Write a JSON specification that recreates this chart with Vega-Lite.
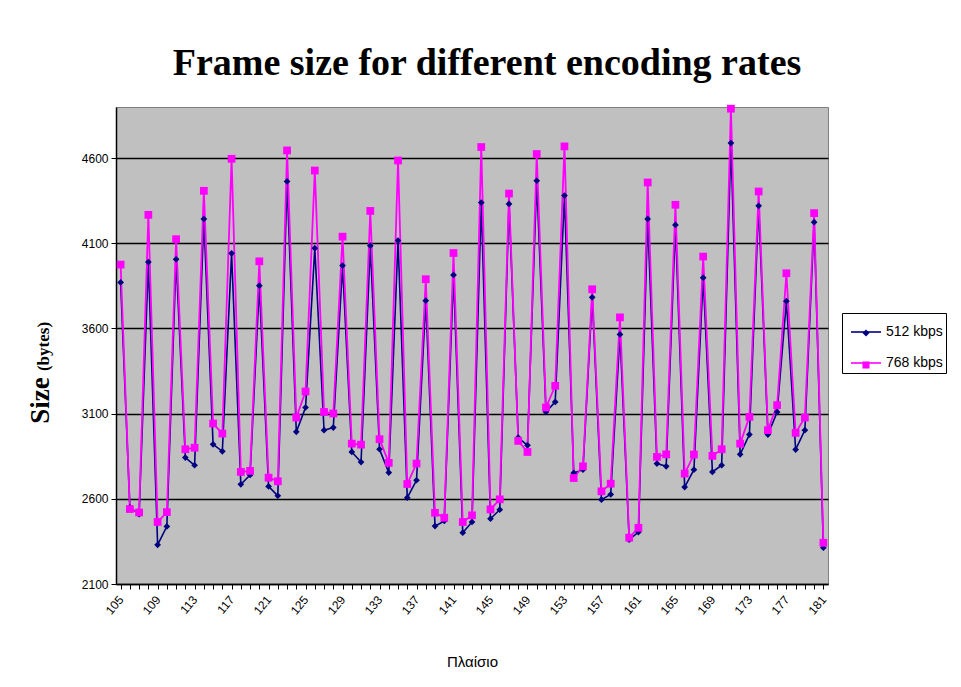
{
  "$schema": "https://vega.github.io/schema/vega-lite/v6.json",
  "width": 712,
  "height": 477,
  "autosize": {"type": "none"},
  "padding": {"left": 116, "top": 107, "right": 133, "bottom": 103},
  "background": "white",
  "title": {
    "text": "Frame size for different encoding rates",
    "font": "Liberation Serif",
    "fontSize": 38,
    "fontWeight": "bold",
    "color": "black",
    "anchor": "middle",
    "offset": 22,
    "dx": 15
  },
  "config": {
    "view": {"fill": "#C0C0C0", "stroke": "#808080", "strokeWidth": 1},
    "axis": {"labelFont": "Liberation Sans", "titleFont": "Liberation Sans", "labelColor": "black", "titleColor": "black"}
  },
  "data": {"values": [
    {"frame":105,"series":"512 kbps","size":3870},{"frame":105,"series":"768 kbps","size":3975},
    {"frame":106,"series":"512 kbps","size":2550},{"frame":106,"series":"768 kbps","size":2540},
    {"frame":107,"series":"512 kbps","size":2510},{"frame":107,"series":"768 kbps","size":2520},
    {"frame":108,"series":"512 kbps","size":3990},{"frame":108,"series":"768 kbps","size":4267},
    {"frame":109,"series":"512 kbps","size":2330},{"frame":109,"series":"768 kbps","size":2464},
    {"frame":110,"series":"512 kbps","size":2438},{"frame":110,"series":"768 kbps","size":2522},
    {"frame":111,"series":"512 kbps","size":4006},{"frame":111,"series":"768 kbps","size":4124},
    {"frame":112,"series":"512 kbps","size":2842},{"frame":112,"series":"768 kbps","size":2891},
    {"frame":113,"series":"512 kbps","size":2797},{"frame":113,"series":"768 kbps","size":2900},
    {"frame":114,"series":"512 kbps","size":4243},{"frame":114,"series":"768 kbps","size":4408},
    {"frame":115,"series":"512 kbps","size":2920},{"frame":115,"series":"768 kbps","size":3042},
    {"frame":116,"series":"512 kbps","size":2879},{"frame":116,"series":"768 kbps","size":2983},
    {"frame":117,"series":"512 kbps","size":4041},{"frame":117,"series":"768 kbps","size":4596},
    {"frame":118,"series":"512 kbps","size":2685},{"frame":118,"series":"768 kbps","size":2758},
    {"frame":119,"series":"512 kbps","size":2740},{"frame":119,"series":"768 kbps","size":2764},
    {"frame":120,"series":"512 kbps","size":3851},{"frame":120,"series":"768 kbps","size":3994},
    {"frame":121,"series":"512 kbps","size":2673},{"frame":121,"series":"768 kbps","size":2724},
    {"frame":122,"series":"512 kbps","size":2618},{"frame":122,"series":"768 kbps","size":2703},
    {"frame":123,"series":"512 kbps","size":4463},{"frame":123,"series":"768 kbps","size":4645},
    {"frame":124,"series":"512 kbps","size":2993},{"frame":124,"series":"768 kbps","size":3077},
    {"frame":125,"series":"512 kbps","size":3136},{"frame":125,"series":"768 kbps","size":3230},
    {"frame":126,"series":"512 kbps","size":4071},{"frame":126,"series":"768 kbps","size":4527},
    {"frame":127,"series":"512 kbps","size":3003},{"frame":127,"series":"768 kbps","size":3110},
    {"frame":128,"series":"512 kbps","size":3018},{"frame":128,"series":"768 kbps","size":3101},
    {"frame":129,"series":"512 kbps","size":3969},{"frame":129,"series":"768 kbps","size":4139},
    {"frame":130,"series":"512 kbps","size":2875},{"frame":130,"series":"768 kbps","size":2924},
    {"frame":131,"series":"512 kbps","size":2816},{"frame":131,"series":"768 kbps","size":2918},
    {"frame":132,"series":"512 kbps","size":4086},{"frame":132,"series":"768 kbps","size":4290},
    {"frame":133,"series":"512 kbps","size":2891},{"frame":133,"series":"768 kbps","size":2950},
    {"frame":134,"series":"512 kbps","size":2754},{"frame":134,"series":"768 kbps","size":2811},
    {"frame":135,"series":"512 kbps","size":4116},{"frame":135,"series":"768 kbps","size":4586},
    {"frame":136,"series":"512 kbps","size":2607},{"frame":136,"series":"768 kbps","size":2687},
    {"frame":137,"series":"512 kbps","size":2709},{"frame":137,"series":"768 kbps","size":2807},
    {"frame":138,"series":"512 kbps","size":3763},{"frame":138,"series":"768 kbps","size":3889},
    {"frame":139,"series":"512 kbps","size":2440},{"frame":139,"series":"768 kbps","size":2518},
    {"frame":140,"series":"512 kbps","size":2470},{"frame":140,"series":"768 kbps","size":2489},
    {"frame":141,"series":"512 kbps","size":3914},{"frame":141,"series":"768 kbps","size":4043},
    {"frame":142,"series":"512 kbps","size":2401},{"frame":142,"series":"768 kbps","size":2464},
    {"frame":143,"series":"512 kbps","size":2464},{"frame":143,"series":"768 kbps","size":2503},
    {"frame":144,"series":"512 kbps","size":4339},{"frame":144,"series":"768 kbps","size":4665},
    {"frame":145,"series":"512 kbps","size":2483},{"frame":145,"series":"768 kbps","size":2538},
    {"frame":146,"series":"512 kbps","size":2536},{"frame":146,"series":"768 kbps","size":2597},
    {"frame":147,"series":"512 kbps","size":4331},{"frame":147,"series":"768 kbps","size":4392},
    {"frame":148,"series":"512 kbps","size":2960},{"frame":148,"series":"768 kbps","size":2940},
    {"frame":149,"series":"512 kbps","size":2914},{"frame":149,"series":"768 kbps","size":2875},
    {"frame":150,"series":"512 kbps","size":4467},{"frame":150,"series":"768 kbps","size":4624},
    {"frame":151,"series":"512 kbps","size":3110},{"frame":151,"series":"768 kbps","size":3136},
    {"frame":152,"series":"512 kbps","size":3169},{"frame":152,"series":"768 kbps","size":3263},
    {"frame":153,"series":"512 kbps","size":4380},{"frame":153,"series":"768 kbps","size":4669},
    {"frame":154,"series":"512 kbps","size":2752},{"frame":154,"series":"768 kbps","size":2722},
    {"frame":155,"series":"512 kbps","size":2771},{"frame":155,"series":"768 kbps","size":2791},
    {"frame":156,"series":"512 kbps","size":3783},{"frame":156,"series":"768 kbps","size":3830},
    {"frame":157,"series":"512 kbps","size":2595},{"frame":157,"series":"768 kbps","size":2644},
    {"frame":158,"series":"512 kbps","size":2626},{"frame":158,"series":"768 kbps","size":2689},
    {"frame":159,"series":"512 kbps","size":3565},{"frame":159,"series":"768 kbps","size":3665},
    {"frame":160,"series":"512 kbps","size":2360},{"frame":160,"series":"768 kbps","size":2372},
    {"frame":161,"series":"512 kbps","size":2405},{"frame":161,"series":"768 kbps","size":2430},
    {"frame":162,"series":"512 kbps","size":4243},{"frame":162,"series":"768 kbps","size":4457},
    {"frame":163,"series":"512 kbps","size":2807},{"frame":163,"series":"768 kbps","size":2846},
    {"frame":164,"series":"512 kbps","size":2791},{"frame":164,"series":"768 kbps","size":2861},
    {"frame":165,"series":"512 kbps","size":4208},{"frame":165,"series":"768 kbps","size":4326},
    {"frame":166,"series":"512 kbps","size":2669},{"frame":166,"series":"768 kbps","size":2748},
    {"frame":167,"series":"512 kbps","size":2771},{"frame":167,"series":"768 kbps","size":2860},
    {"frame":168,"series":"512 kbps","size":3898},{"frame":168,"series":"768 kbps","size":4022},
    {"frame":169,"series":"512 kbps","size":2758},{"frame":169,"series":"768 kbps","size":2852},
    {"frame":170,"series":"512 kbps","size":2797},{"frame":170,"series":"768 kbps","size":2891},
    {"frame":171,"series":"512 kbps","size":4688},{"frame":171,"series":"768 kbps","size":4890},
    {"frame":172,"series":"512 kbps","size":2861},{"frame":172,"series":"768 kbps","size":2924},
    {"frame":173,"series":"512 kbps","size":2977},{"frame":173,"series":"768 kbps","size":3081},
    {"frame":174,"series":"512 kbps","size":4320},{"frame":174,"series":"768 kbps","size":4404},
    {"frame":175,"series":"512 kbps","size":2977},{"frame":175,"series":"768 kbps","size":3003},
    {"frame":176,"series":"512 kbps","size":3110},{"frame":176,"series":"768 kbps","size":3150},
    {"frame":177,"series":"512 kbps","size":3760},{"frame":177,"series":"768 kbps","size":3924},
    {"frame":178,"series":"512 kbps","size":2889},{"frame":178,"series":"768 kbps","size":2987},
    {"frame":179,"series":"512 kbps","size":3003},{"frame":179,"series":"768 kbps","size":3077},
    {"frame":180,"series":"512 kbps","size":4224},{"frame":180,"series":"768 kbps","size":4277},
    {"frame":181,"series":"512 kbps","size":2313},{"frame":181,"series":"768 kbps","size":2342}
  ]},
  "encoding": {
    "x": {
      "field": "frame",
      "type": "ordinal",
      "scale": {"type": "point", "padding": 0.5},
      "axis": {
        "title": "Πλαίσιο",
        "titleFontSize": 15,
        "titleFontWeight": "normal",
        "titleY": 82,
        "titleBaseline": "alphabetic",
        "labelExpr": "(datum.value - 105) % 4 == 0 ? datum.label : ''",
        "labelAngle": -50,
        "labelAlign": "right",
        "labelBaseline": "middle",
        "labelFontSize": 12,
        "labelPadding": 8,
        "domainColor": "black",
        "domainWidth": 1.5,
        "tickColor": "black",
        "tickSize": 5,
        "grid": false
      }
    }
  },
  "layer": [
    {
      "transform": [{"filter": "datum.series == '512 kbps'"}],
      "mark": {"type": "line", "strokeWidth": 1.6},
      "encoding": {
        "y": {
          "field": "size",
          "type": "quantitative",
          "scale": {"domain": [2100, 4900], "nice": false, "zero": false},
          "axis": {
            "title": "Size",
            "titleFont": "Liberation Serif",
            "titleFontSize": 27,
            "titleFontWeight": "bold",
            "titleX": -68,
            "titleY": 293,
            "titleAlign": "center",
            "titleBaseline": "alphabetic",
            "values": [2100, 2600, 3100, 3600, 4100, 4600],
            "format": "d",
            "labelFontSize": 12,
            "labelPadding": 3,
            "tickColor": "black",
            "tickSize": 5,
            "domainColor": "black",
            "domainWidth": 1.5,
            "grid": true,
            "gridColor": "black",
            "gridWidth": 1.6,
            "gridOpacity": 1
          }
        },
        "stroke": {
          "field": "series",
          "type": "nominal",
          "scale": {"range": ["#000080", "#FF00FF"]},
          "legend": {
            "title": null,
            "orient": "none",
            "legendX": 726,
            "legendY": 206,
            "direction": "vertical",
            "labelFont": "Liberation Sans",
            "labelFontSize": 14,
            "labelColor": "black",
            "strokeColor": "black",
            "padding": 3,
            "rowPadding": 8,
            "symbolType": "stroke",
            "symbolSize": 900,
            "symbolStrokeWidth": 1.6,
            "symbolOffset": 5,
            "labelOffset": 4
          }
        }
      }
    },
    {
      "transform": [{"filter": "datum.series == '768 kbps'"}],
      "mark": {"type": "line", "strokeWidth": 1.8},
      "encoding": {
        "y": {
          "field": "size",
          "type": "quantitative",
          "axis": {
            "orient": "left",
            "title": "(bytes)",
            "titleFont": "Liberation Serif",
            "titleFontSize": 17,
            "titleFontWeight": "bold",
            "titleX": -68,
            "titleY": 239,
            "titleAlign": "center",
            "titleBaseline": "alphabetic",
            "labels": false,
            "ticks": false,
            "domain": false,
            "grid": false
          }
        },
        "stroke": {"field": "series", "type": "nominal"}
      }
    },
    {
      "transform": [{"filter": "datum.series == '512 kbps'"}],
      "mark": {"type": "point", "filled": true, "opacity": 1, "size": 45, "strokeWidth": 0},
      "encoding": {
        "y": {"field": "size", "type": "quantitative", "axis": null},
        "fill": {
          "field": "series",
          "type": "nominal",
          "scale": {"domain": ["512 kbps", "768 kbps"], "range": ["#000080", "#FF00FF"]},
          "legend": {
            "title": null,
            "orient": "none",
            "legendX": 726,
            "legendY": 211,
            "direction": "vertical",
            "labelFont": "Liberation Sans",
            "labelFontSize": 14,
            "labelExpr": "''",
            "padding": 8,
            "rowPadding": 18,
            "symbolSize": 50,
            "symbolOffset": 9,
            "labelOffset": 5
          }
        },
        "shape": {
          "field": "series",
          "type": "nominal",
          "scale": {"domain": ["512 kbps", "768 kbps"], "range": ["diamond", "square"]},
          "legend": {
            "title": null,
            "orient": "none",
            "legendX": 726,
            "legendY": 211,
            "direction": "vertical",
            "labelFont": "Liberation Sans",
            "labelFontSize": 14,
            "labelExpr": "''",
            "padding": 8,
            "rowPadding": 18,
            "symbolSize": 50,
            "symbolOffset": 9,
            "labelOffset": 5
          }
        }
      }
    },
    {
      "transform": [{"filter": "datum.series == '768 kbps'"}],
      "mark": {"type": "point", "filled": true, "opacity": 1, "size": 60, "strokeWidth": 0},
      "encoding": {
        "y": {"field": "size", "type": "quantitative", "axis": null},
        "fill": {"field": "series", "type": "nominal"},
        "shape": {"field": "series", "type": "nominal"}
      }
    }
  ],
  "resolve": {"axis": {"y": "independent"}}
}
